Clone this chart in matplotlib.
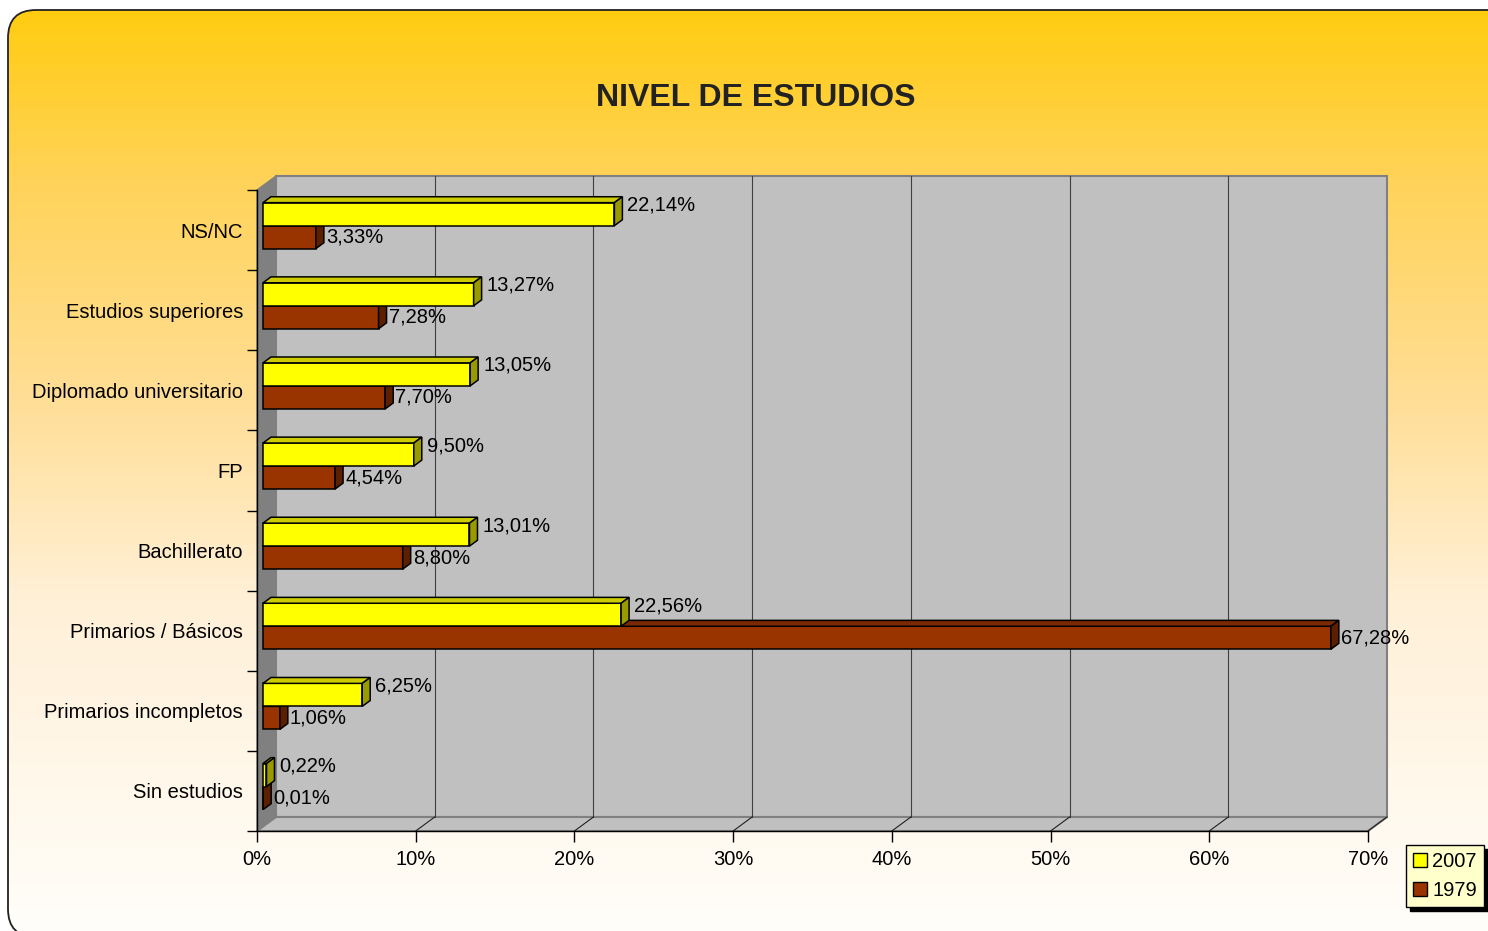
import numpy as np
import matplotlib
matplotlib.use("Agg")
import matplotlib.pyplot as plt
from matplotlib.patches import Polygon, FancyBboxPatch, Patch

plt.rcParams['font.family'] = ['Liberation Sans', 'DejaVu Sans']

# data (bottom -> top)
categories = ['Sin estudios', 'Primarios incompletos', 'Primarios / Básicos',
              'Bachillerato', 'FP', 'Diplomado universitario',
              'Estudios superiores', 'NS/NC']
v2007 = [0.22, 6.25, 22.56, 13.01, 9.50, 13.05, 13.27, 22.14]
v1979 = [0.01, 1.06, 67.28, 8.80, 4.54, 7.70, 7.28, 3.33]
xticks = [0, 10, 20, 30, 40, 50, 60, 70]
series_names = ['2007', '1979']

FS = 14.5
W, H = 1488, 931
fig = plt.figure(figsize=(W / 100, H / 100), dpi=100)

# background with rounded frame and vertical gradient (pixel coords, y up)
bg = fig.add_axes([0, 0, 1, 1])
bg.set_xlim(0, W)
bg.set_ylim(0, H)
bg.axis('off')
stops_y = [10, 180, 400, 600, 930]
stops_g = [204, 211, 222, 240, 254]
stops_b = [16, 89, 150, 215, 250]
yy = np.arange(H)
grad = np.zeros((H, 1, 3))
grad[:, 0, 0] = 1.0
grad[:, 0, 1] = np.interp(yy, stops_y, stops_g) / 255
grad[:, 0, 2] = np.interp(yy, stops_y, stops_b) / 255
frame = FancyBboxPatch((8, H - 937), 1540, 927, boxstyle='round,pad=0,rounding_size=28',
                       facecolor='none', edgecolor='#222222', lw=1.3, zorder=2)
bg.add_patch(frame)
im = bg.imshow(grad, extent=[0, W, 0, H], origin='upper', aspect='auto', zorder=1)
im.set_clip_path(frame)

fig.text(756 / W, 1 - 98 / H, 'NIVEL DE ESTUDIOS', ha='center', va='center',
         fontsize=23, fontweight='bold', color='#222222')

# front plane axes
ax = fig.add_axes([257 / W, 100 / H, 1111 / W, 641 / H])
ax.set_xlim(0, 70)
ax.set_ylim(0, 8)
ax.patch.set_alpha(0)
for s in ['top', 'right']:
    ax.spines[s].set_visible(False)
for s in ['left', 'bottom']:
    ax.spines[s].set_color('black')
    ax.spines[s].set_linewidth(1.0)
    ax.spines[s].set_zorder(4)

px_x = 70 / 1111.0
px_y = 8 / 641.0
DXW, DYW = 19 * px_x, 14 * px_y   # depth of the wall
z0, z1 = 0.316, 0.737            # bar depth span (fraction of wall depth)
bar_h = 23 * px_y

def poly(pts, fc, ec, lw=1.0, z=1):
    ax.add_patch(Polygon(pts, closed=True, facecolor=fc, edgecolor=ec, lw=lw,
                         zorder=z, clip_on=False, joinstyle='miter'))

# walls
poly([(DXW, DYW), (70 + DXW, DYW), (70 + DXW, 8 + DYW), (DXW, 8 + DYW)], '#C0C0C0', '#808080', 1.5)
poly([(0, 0), (DXW, DYW), (DXW, 8 + DYW), (0, 8)], '#808080', '#808080', 1.0)
poly([(0, 0), (70, 0), (70 + DXW, DYW), (DXW, DYW)], '#C0C0C0', '#808080', 1.5)
for t in xticks[1:-1]:
    ax.plot([t + DXW, t + DXW], [DYW, 8 + DYW], color='#404040', lw=0.8, zorder=1.5, clip_on=False)
for t in xticks[1:]:
    ax.plot([t, t + DXW], [0, DYW], color='#202020', lw=0.8, zorder=1.5, clip_on=False)

# 3D bars
colors = {'2007': ('#FFFF00', '#CCCC00', '#999900'),
          '1979': ('#993300', '#7A2900', '#5C1F00')}

def bar3d(v, y0, cols):
    x0a, y0a = z0 * DXW, z0 * DYW
    x1a, y1a = z1 * DXW, z1 * DYW
    y1 = y0 + bar_h
    front, top, side = cols
    poly([(x0a, y0 + y0a), (v + x0a, y0 + y0a), (v + x0a, y1 + y0a), (x0a, y1 + y0a)], front, 'black', 1.1, 3)
    poly([(x0a, y1 + y0a), (v + x0a, y1 + y0a), (v + x1a, y1 + y1a), (x1a, y1 + y1a)], top, 'black', 1.1, 3)
    poly([(v + x0a, y0 + y0a), (v + x1a, y0 + y1a), (v + x1a, y1 + y1a), (v + x0a, y1 + y0a)], side, 'black', 1.1, 3)

def fmt(v):
    return f'{v:.2f}%'.replace('.', ',')

for i in range(len(categories)):
    c = i + 0.5
    bar3d(v1979[i], c - bar_h, colors['1979'])
    bar3d(v2007[i], c, colors['2007'])
    ax.text(v2007[i] + z1 * DXW + 5 * px_x, c + bar_h / 2 + z0 * DYW + 9 * px_y, fmt(v2007[i]),
            ha='left', va='center', fontsize=FS, zorder=6)
    ax.text(v1979[i] + z1 * DXW + 2 * px_x, c - bar_h / 2 + z0 * DYW, fmt(v1979[i]),
            ha='left', va='center', fontsize=FS, zorder=6)

# axes ticks
ax.set_xticks(xticks, [f'{t}%' for t in xticks])
ax.tick_params(axis='x', length=8, width=1, pad=6, labelsize=FS, color='black')
ax.set_yticks([i + 0.5 for i in range(len(categories))], categories)
ax.tick_params(axis='y', which='major', length=0, pad=10, labelsize=FS)
ax.set_yticks(range(len(categories) + 1), minor=True)
ax.tick_params(axis='y', which='minor', length=7.5, width=1, color='black')

# legend
handles = [Patch(facecolor=colors[n][0], edgecolor='black', lw=1.0) for n in series_names]
leg = fig.legend(handles, series_names, loc='upper left',
                 bbox_to_anchor=(1406 / W, 1 - 845 / H), fontsize=FS, fancybox=False,
                 frameon=True, handlelength=0.7, handleheight=0.7, handletextpad=0.25,
                 labelspacing=0.5, borderpad=0.35, borderaxespad=0,
                 shadow={'ox': 3, 'oy': -3, 'color': 'black', 'alpha': 1})
leg.get_frame().set_facecolor('#FFFFCC')
leg.get_frame().set_edgecolor('black')
leg.get_frame().set_alpha(1)

fig.savefig('out.png', dpi=100)
